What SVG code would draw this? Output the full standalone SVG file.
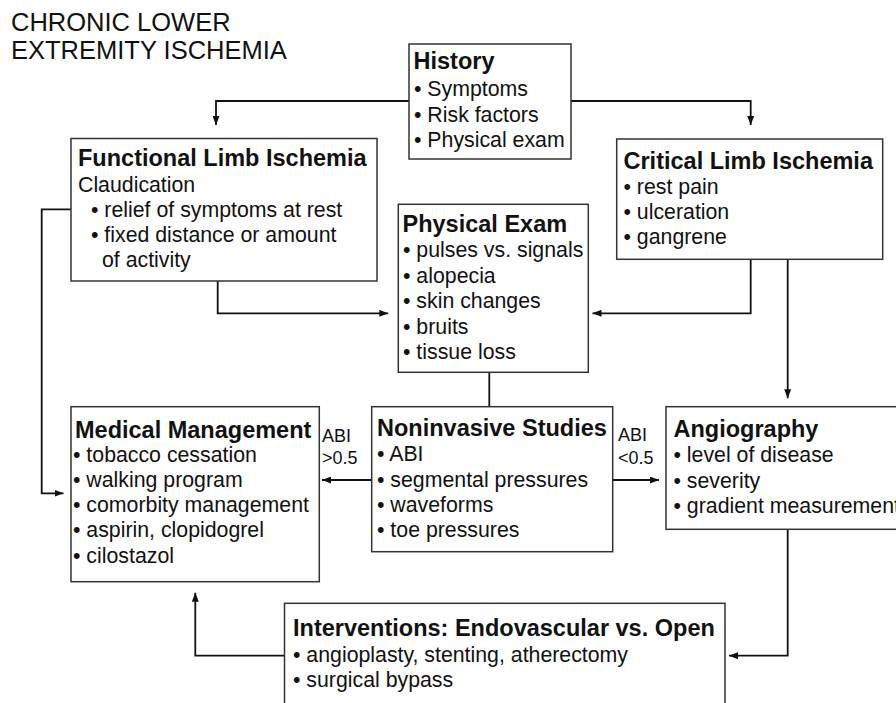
<svg xmlns="http://www.w3.org/2000/svg" width="896" height="703" viewBox="0 0 896 703">
  <style>
    text { font-family: "Liberation Sans", Arial, Helvetica, sans-serif; fill: #111; }
    .title { font-size: 25.5px; }
    .hd { font-size: 23.5px; font-weight: bold; }
    .tx { font-size: 21.3px; }
    .lb { font-size: 18px; }
    .box { fill: #fff; stroke: #333; stroke-width: 1.5; }
    .ln { fill: none; stroke: #111; stroke-width: 1.8; }
  </style>
  <defs>
    <marker id="arr" viewBox="0 0 9 7" refX="9" refY="3.5" markerWidth="9" markerHeight="7" markerUnits="userSpaceOnUse" orient="auto">
      <path d="M0,0 L9,3.5 L0,7 Z" fill="#111"/>
    </marker>
  </defs>
  <rect width="896" height="703" fill="#fff"/>

  <g id="title">
    <text class="title" x="11" y="31">CHRONIC LOWER</text>
    <text class="title" x="11" y="58.5">EXTREMITY ISCHEMIA</text>
  </g>

  <g id="connectors">
    <!-- history splits to both limb ischemia boxes -->
    <path class="ln" d="M409,101 H216 V125" marker-end="url(#arr)"/>
    <path class="ln" d="M571,101 H750.7 V125" marker-end="url(#arr)"/>
    <!-- both feed the physical exam -->
    <path class="ln" d="M217.7,281 V313.3 H388.3" marker-end="url(#arr)"/>
    <path class="ln" d="M750.7,259.3 V313.3 H592.5" marker-end="url(#arr)"/>
    <!-- claudication straight to medical management -->
    <path class="ln" d="M71,209.3 H41.7 V493.3 H63.5" marker-end="url(#arr)"/>
    <!-- critical ischemia to angiography -->
    <path class="ln" d="M787.7,259.3 V398.3" marker-end="url(#arr)"/>
    <!-- physical exam to noninvasive studies -->
    <path class="ln" d="M489.3,372.3 V406.7"/>
    <!-- ABI branches -->
    <path class="ln" d="M371.7,480 H322" marker-end="url(#arr)"/>
    <path class="ln" d="M612.7,480 H659" marker-end="url(#arr)"/>
    <!-- angiography to interventions, interventions back to medical management -->
    <path class="ln" d="M787.7,529.3 V655.7 H729" marker-end="url(#arr)"/>
    <path class="ln" d="M284.5,655.7 H195.3 V592.7" marker-end="url(#arr)"/>
  </g>

  <g id="history">
    <rect class="box" x="409" y="44" width="162" height="115"/>
    <text class="hd" x="413.5" y="69">History</text>
    <text class="tx" x="414" y="96">• Symptoms</text>
    <text class="tx" x="414" y="121.5">• Risk factors</text>
    <text class="tx" x="414" y="147">• Physical exam</text>
  </g>

  <g id="functional">
    <rect class="box" x="71" y="138.5" width="306" height="142.5"/>
    <text class="hd" x="78" y="166">Functional Limb Ischemia</text>
    <text class="tx" x="78" y="192">Claudication</text>
    <text class="tx" x="91" y="217">• relief of symptoms at rest</text>
    <text class="tx" x="91" y="242">• fixed distance or amount</text>
    <text class="tx" x="102" y="267">of activity</text>
  </g>

  <g id="critical">
    <rect class="box" x="616.7" y="139" width="266" height="120.3"/>
    <text class="hd" x="623.5" y="169">Critical Limb Ischemia</text>
    <text class="tx" x="623.5" y="193.5">• rest pain</text>
    <text class="tx" x="623.5" y="219">• ulceration</text>
    <text class="tx" x="623.5" y="244">• gangrene</text>
  </g>

  <g id="physical-exam">
    <rect class="box" x="398.3" y="204.3" width="190" height="168"/>
    <text class="hd" x="402.5" y="232">Physical Exam</text>
    <text class="tx" x="403" y="257">• pulses vs. signals</text>
    <text class="tx" x="403" y="282.5">• alopecia</text>
    <text class="tx" x="403" y="308">• skin changes</text>
    <text class="tx" x="403" y="333.5">• bruits</text>
    <text class="tx" x="403" y="359">• tissue loss</text>
  </g>

  <g id="medical">
    <rect class="box" x="71" y="406.7" width="248.3" height="175"/>
    <text class="hd" x="75" y="438">Medical Management</text>
    <text class="tx" x="73" y="462">• tobacco cessation</text>
    <text class="tx" x="73" y="487">• walking program</text>
    <text class="tx" x="73" y="512">• comorbity management</text>
    <text class="tx" x="73" y="537">• aspirin, clopidogrel</text>
    <text class="tx" x="73" y="562.5">• cilostazol</text>
  </g>

  <g id="noninvasive">
    <rect class="box" x="371.7" y="406.7" width="241" height="145"/>
    <text class="hd" x="377" y="436">Noninvasive Studies</text>
    <text class="tx" x="377" y="461">• ABI</text>
    <text class="tx" x="377" y="486.5">• segmental pressures</text>
    <text class="tx" x="377" y="512">• waveforms</text>
    <text class="tx" x="377" y="537">• toe pressures</text>
  </g>

  <g id="abi-labels">
    <text class="lb" x="322" y="442">ABI</text>
    <text class="lb" x="322" y="464">&gt;0.5</text>
    <text class="lb" x="618" y="441">ABI</text>
    <text class="lb" x="618" y="464">&lt;0.5</text>
  </g>

  <g id="angiography">
    <rect class="box" x="666" y="406.7" width="250" height="122.6"/>
    <text class="hd" x="673.5" y="437">Angiography</text>
    <text class="tx" x="673.5" y="462">• level of disease</text>
    <text class="tx" x="673.5" y="487.5">• severity</text>
    <text class="tx" x="673.5" y="513">• gradient measurement</text>
  </g>

  <g id="interventions">
    <rect class="box" x="284.5" y="603.3" width="440.5" height="120"/>
    <text class="hd" x="293" y="636">Interventions: Endovascular vs. Open</text>
    <text class="tx" x="293" y="661.7">• angioplasty, stenting, atherectomy</text>
    <text class="tx" x="293" y="686.7">• surgical bypass</text>
  </g>
</svg>
